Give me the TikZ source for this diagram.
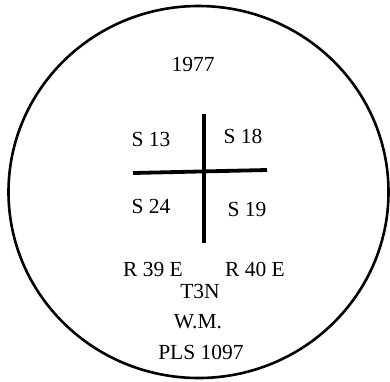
\documentclass[tikz,border=0pt]{standalone}
\usepackage{fontspec}
\setmainfont{Liberation Serif}
\usetikzlibrary{positioning}

\begin{document}
\begin{tikzpicture}[
    x=1pt, y=-1pt,
    rotulo/.style={
        inner sep=0pt,
        anchor=center,
        font=\fontsize{21.5}{24}\selectfont
    },
    linha/.style={
        line width=3.8pt
    },
    borda/.style={
        line width=2.6pt
    }
]

\useasboundingbox (0,0) rectangle (390,381);

% =================================================
% CONTORNO
% =================================================

\draw[borda] (198.5,192) ellipse [x radius=190pt, y radius=186pt];

% =================================================
% CRUZ DAS SECOES
% =================================================

\coordinate (esq) at (133,173);
\coordinate (dir) at (267,170);
\coordinate (cima) at (204,114);
\coordinate (baixo) at (204,243);

\draw[linha] (esq) -- (dir);
\draw[linha, line width=3.4pt] (cima) -- (baixo);

% =================================================
% TEXTOS
% =================================================

\node[rotulo] (ano) at (193,64)
{1977};

\node[rotulo] (s13) at (151,139)
{S 13};

\node[rotulo] (s18) at (243,136)
{S 18};

\node[rotulo] (s24) at (151,206)
{S 24};

\node[rotulo] (s19) at (247,209)
{S 19};

\node[rotulo] (r39) at (153,269)
{R 39 E};

\node[rotulo] (r40) at (255,269)
{R 40 E};

\node[rotulo] (t3n) at (200,291)
{T3N};

\node[rotulo] (wm) at (198,322)
{W.M.};

\node[rotulo] (pls) at (201,352)
{PLS 1097};

\end{tikzpicture}
\end{document}
